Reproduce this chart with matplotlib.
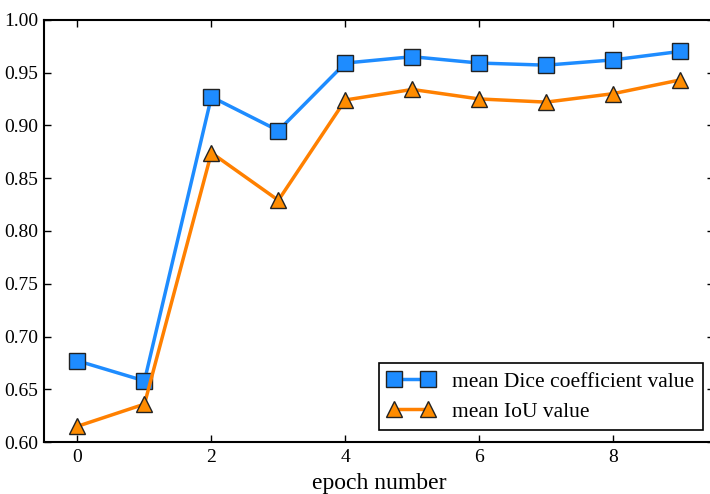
import matplotlib
matplotlib.use("Agg")
import matplotlib.pyplot as plt

epochs = [0, 1, 2, 3, 4, 5, 6, 7, 8, 9]
dice = [0.677, 0.658, 0.927, 0.895, 0.959, 0.965, 0.959, 0.957, 0.962, 0.970]
iou = [0.615, 0.636, 0.874, 0.829, 0.924, 0.934, 0.925, 0.922, 0.930, 0.943]
xticks = [0, 2, 4, 6, 8]
yticks = [0.60, 0.65, 0.70, 0.75, 0.80, 0.85, 0.90, 0.95, 1.00]

plt.rcParams['font.family'] = ['Liberation Serif', 'DejaVu Serif']

fig = plt.figure(figsize=(7.1, 4.94), dpi=100)
ax = fig.add_axes([0.062, 0.105, 0.943, 0.855])

ax.plot(epochs, dice, color='#1E8CFF', lw=2.5, marker='s', ms=11,
        mfc='#1E8CFF', mec='#222222', mew=1, label='mean Dice coefficient value')
ax.plot(epochs, iou, color='#FF8000', lw=2.5, marker='^', ms=12,
        mfc='#FF8C00', mec='#222222', mew=1, label='mean IoU value')

ax.set_xlim(-0.5, 9.5)
ax.set_ylim(0.60, 1.00)
ax.set_xticks(xticks)
ax.set_yticks(yticks)
ax.set_yticklabels(['%.2f' % v for v in yticks])
ax.tick_params(direction='in', top=True, right=True, length=5, width=1,
               labelsize=14)
ax.tick_params(axis='y', pad=4)
ax.tick_params(axis='x', pad=5)
for s in ax.spines.values():
    s.set_linewidth(1.5)
ax.set_xlabel('epoch number', fontsize=17, labelpad=5)

leg = ax.legend(loc='lower right', bbox_to_anchor=(0.984, 0.028), numpoints=2,
                fontsize=15.5, fancybox=False, edgecolor='black', framealpha=1,
                handlelength=2.2, borderpad=0.4, labelspacing=0.45,
                borderaxespad=0)
leg.get_frame().set_linewidth(1.2)

fig.savefig('out.png', dpi=100)
